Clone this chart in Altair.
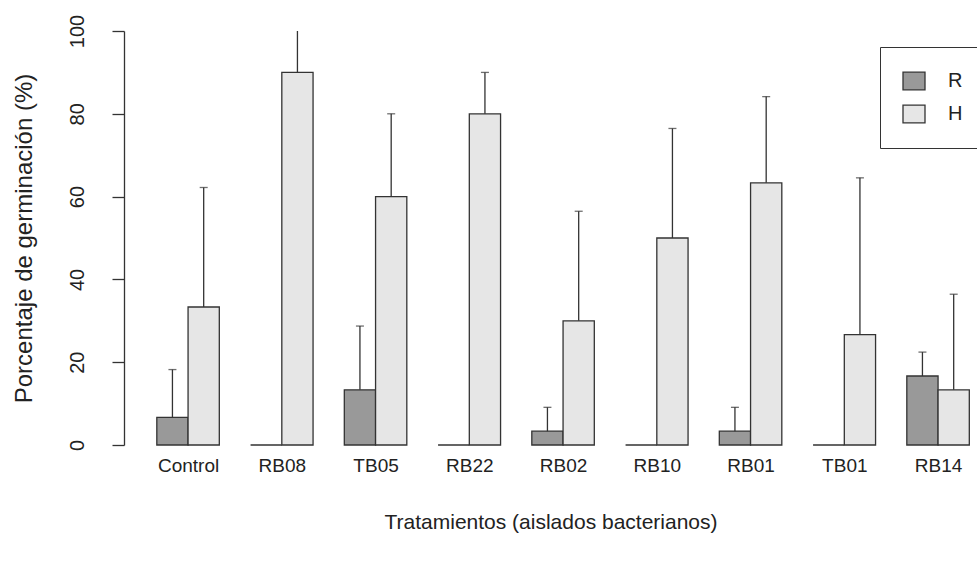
import altair as alt
import pandas as pd

# Germination percentages per treatment, two series (R and H), mean and SD
groups = ["Control", "RB08", "TB05", "RB22", "RB02", "RB10", "RB01", "TB01", "RB14"]
series = ["R", "H"]
r_mean = [6.67, 0, 13.33, 0, 3.33, 0, 3.33, 0, 16.67]
r_sd = [11.55, 0, 15.4, 0, 5.77, 0, 5.77, 0, 5.77]
h_mean = [33.33, 90, 60, 80, 30, 50, 63.33, 26.67, 13.33]
h_sd = [28.87, 10, 20, 10, 26.46, 26.46, 20.82, 37.86, 23.09]
y_ticks = [0, 20, 40, 60, 80, 100]

FONT = "Liberation Sans, Arial, sans-serif"
INK = "#333333"

# barplot layout: each bar one unit wide, groups of two bars separated by one unit
rows = []
for i, g in enumerate(groups):
    pairs = [("R", r_mean[i], r_sd[i]), ("H", h_mean[i], h_sd[i])]
    for j, (s, m, sd) in enumerate(pairs):
        left = 3 * i + 1 + j
        rows.append({"grupo": g, "serie": s, "media": m, "sd": sd,
                     "x0": left, "x1": left + 1, "xc": left + 0.5})
df = pd.DataFrame(rows)
centers = [3 * i + 2 for i in range(len(groups))]

label_expr = "[" + ",".join(f"'{g}'" for g in groups) + "][round((datum.value - 2) / 3)]"

x_scale = alt.Scale(domain=[-0.05, 27.246], nice=False, zero=False)
y_scale = alt.Scale(domain=[0, 100], nice=False)

x_axis = alt.Axis(values=centers, labelExpr=label_expr, domain=False, ticks=False,
                  tickSize=0, grid=False, labelFontSize=19, labelPadding=11,
                  labelColor="#222", labelFont=FONT,
                  title="Tratamientos (aislados bacterianos)", titleFontSize=21,
                  titleFont=FONT, titleFontWeight="normal", titleColor="#222",
                  titlePadding=36)
y_axis = alt.Axis(values=y_ticks, grid=False, domainColor=INK, domainWidth=1.3,
                  tickColor=INK, tickWidth=1.3, tickSize=12, labelAngle=-90,
                  labelAlign="center", labelBaseline="bottom", labelPadding=25,
                  labelFontSize=20, labelFont=FONT, labelColor="#222",
                  title="Porcentaje de germinación (%)", titleFontSize=24,
                  titleFont=FONT, titleFontWeight="normal", titleColor="#222",
                  titlePadding=31)

base = alt.Chart(df)

bars = base.mark_bar(stroke=INK, strokeWidth=1.3).encode(
    x=alt.X("x0:Q", scale=x_scale, axis=x_axis),
    x2="x1:Q",
    y=alt.Y("media:Q", scale=y_scale, axis=y_axis, stack=None),
    y2=alt.datum(0),
    color=alt.Color("serie:N",
                    scale=alt.Scale(domain=series, range=["#999999", "#e6e6e6"]),
                    legend=alt.Legend(title=None, orient="none", legendX=756, legendY=16,
                                      strokeColor=INK, padding=22, fillColor="white",
                                      symbolType="M-1,-0.8L1,-0.8L1,0.8L-1,0.8Z",
                                      symbolSize=484, symbolStrokeColor=INK,
                                      symbolStrokeWidth=1.3, symbolOpacity=1,
                                      labelFontSize=20, labelFont=FONT, labelColor="#222",
                                      labelOffset=22, rowPadding=9)),
)

errs = base.transform_filter("datum.sd > 0").transform_calculate(
    upper="datum.media + datum.sd"
)

whiskers = errs.mark_rule(color=INK, strokeWidth=1.3).encode(
    x="xc:Q", y="media:Q", y2="upper:Q"
)

# caps sit at the whisker tops; a cap at the axis limit falls outside the plot
caps = errs.transform_filter("datum.upper < 99.9").mark_tick(
    orient="horizontal", size=8, thickness=1.3, color=INK
).encode(x="xc:Q", y="upper:Q")

chart = alt.layer(bars, whiskers, caps).properties(
    width=853, height=414,
    background="white",
    autosize=alt.AutoSizeParams(type="none"),
    padding={"left": 124, "top": 31, "right": 0, "bottom": 120},
).configure_view(stroke=None)

chart.save("out.html", embed_options={"renderer": "svg", "actions": False})
